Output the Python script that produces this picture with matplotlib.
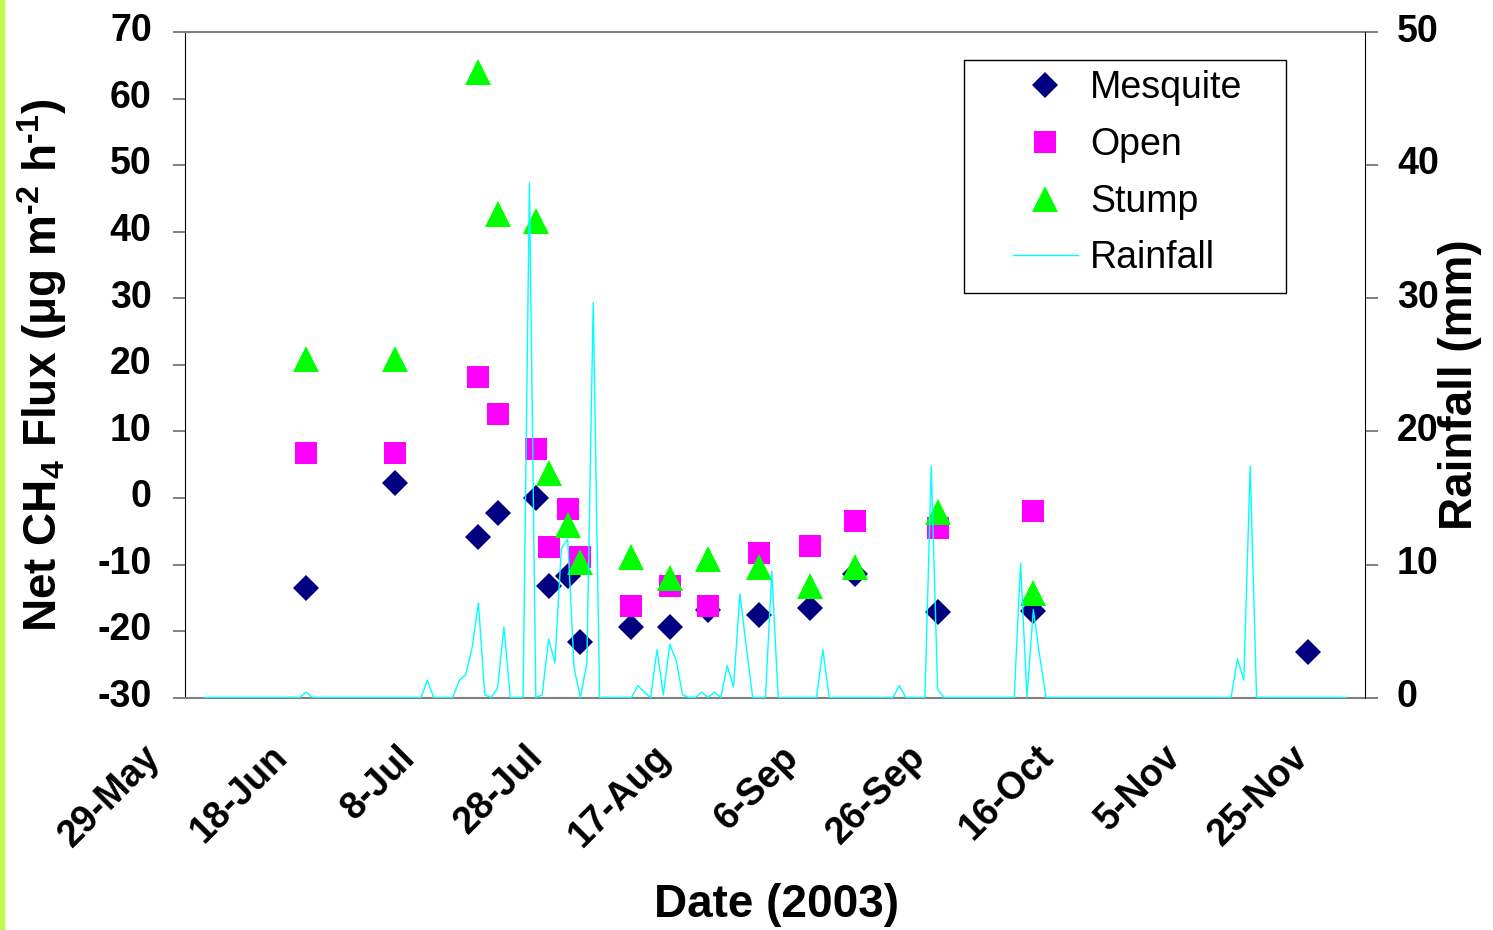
import numpy as np
import pandas as pd
import matplotlib
matplotlib.use('Agg')
import matplotlib.pyplot as plt
from matplotlib.lines import Line2D
from matplotlib.patches import Rectangle
from matplotlib.transforms import ScaledTranslation

plt.rcParams['font.family'] = ['Liberation Sans', 'DejaVu Sans']
plt.rcParams['axes.unicode_minus'] = False
plt.rcParams['mathtext.fontset'] = 'custom'
plt.rcParams['mathtext.rm'] = 'Liberation Sans:bold'
plt.rcParams['mathtext.it'] = 'Liberation Sans:bold'
plt.rcParams['mathtext.bf'] = 'Liberation Sans:bold'
plt.rcParams['mathtext.default'] = 'rm'

# fechas de muestreo del flujo de CH4 (2003)
fechas = ['2003-06-17', '2003-07-01', '2003-07-14', '2003-07-17', '2003-07-23',
          '2003-07-25', '2003-07-28', '2003-07-30', '2003-08-07', '2003-08-13',
          '2003-08-19', '2003-08-27', '2003-09-04', '2003-09-11', '2003-09-24',
          '2003-10-09', '2003-11-21']
mesquite = [-13.5, 2.3, -5.9, -2.2, 0.0, -13.2, -11.7, -21.6, -19.4, -19.4,
            -16.9, -17.6, -16.5, -11.4, -17.2, -17.0, -23.2]
# Open y Stump no tienen dato el 21-Nov
open_ = [6.8, 6.8, 18.2, 12.7, 7.3, -7.4, -1.6, -8.9, -16.3, -13.3,
         -16.3, -8.3, -7.2, -3.5, -4.5, -1.9]
stump = [20.9, 20.9, 64.1, 42.7, 41.6, 3.7, -4.0, -9.6, -8.9, -12.1,
         -9.2, -10.4, -13.3, -10.4, -2.1, -14.3]

# lluvia diaria (mm): registro del 1-Jun al 27-Nov, cero salvo estos dias
lluvia_inicio, lluvia_fin = '2003-06-01', '2003-11-27'
lluvia_fechas = ['2003-06-17', '2003-07-06', '2003-07-11', '2003-07-12', '2003-07-13',
                 '2003-07-14', '2003-07-15', '2003-07-17', '2003-07-18', '2003-07-22',
                 '2003-07-24', '2003-07-25', '2003-07-26', '2003-07-27', '2003-07-28',
                 '2003-07-29', '2003-07-31', '2003-08-01', '2003-08-08', '2003-08-09',
                 '2003-08-11', '2003-08-12', '2003-08-13', '2003-08-14', '2003-08-15',
                 '2003-08-18', '2003-08-20', '2003-08-22', '2003-08-23', '2003-08-24',
                 '2003-08-25', '2003-08-29', '2003-09-06', '2003-09-18', '2003-09-23',
                 '2003-09-24', '2003-10-07', '2003-10-09', '2003-10-10', '2003-11-10',
                 '2003-11-11', '2003-11-12']
lluvia_mm = [0.4, 1.3, 1.3, 1.7, 3.7,
             7.1, 0.2, 0.7, 5.3, 38.7,
             0.2, 4.4, 2.6, 11.2, 11.9,
             2.2, 2.6, 29.7, 0.9, 0.4,
             3.6, 0.2, 4.0, 2.8, 0.2,
             0.4, 0.4, 2.4, 0.8, 7.8,
             3.8, 9.5, 3.6, 0.9, 17.4,
             0.6, 10.1, 6.6, 3.1, 2.9,
             1.3, 17.4]

etiquetas_x = ['29-May', '18-Jun', '8-Jul', '28-Jul', '17-Aug', '6-Sep',
               '26-Sep', '16-Oct', '5-Nov', '25-Nov']
ticks_izq = [-30, -20, -10, 0, 10, 20, 30, 40, 50, 60, 70]
ticks_der = [0, 10, 20, 30, 40, 50]

fechas = pd.to_datetime(fechas)
dias = pd.date_range(lluvia_inicio, lluvia_fin, freq='D')
lluvia = pd.Series(0.0, index=dias)
lluvia[pd.to_datetime(lluvia_fechas)] = lluvia_mm
pos_x = pd.to_datetime([e + '-2003' for e in etiquetas_x], format='%d-%b-%Y')

W, H = 1493, 930
fig = plt.figure(figsize=(W / 100, H / 100), dpi=100)
fig.patches.append(Rectangle((0, 0), 4 / W, 1, transform=fig.transFigure,
                             color='#C2F74E', zorder=0))
ax = fig.add_axes([185 / W, 1 - 697.5 / H, 1180 / W, 665 / H])
ax2 = ax.twinx()

ax.plot(fechas, mesquite, ls='none', marker='D', ms=12.8, mew=0, color='#000080')
ax.plot(fechas[:16], open_, ls='none', marker='s', ms=16.3, mew=0, color='#FF00FF')
ax.plot(fechas[:16], stump, ls='none', marker='^', ms=18.2, mew=0, color='#00FF00')
ax2.plot(lluvia.index, lluvia.values, color='#00FFFF', lw=1.0)

ax.set_xlim(pd.Timestamp('2003-05-29'), pd.Timestamp('2003-11-30'))
ax.set_ylim(-30, 70)
ax2.set_ylim(0, 50)

gris = '#808080'
ax.tick_params(axis='y', direction='out', length=9, width=1.4, color=gris, pad=15)
ax2.tick_params(axis='y', direction='out', length=9, width=1.4, color=gris, pad=14)
ax.tick_params(axis='x', length=0, pad=39)

ax.set_yticks(ticks_izq)
ax.set_yticklabels([str(v) for v in ticks_izq], fontsize=27, fontweight='bold')
ax2.set_yticks(ticks_der)
ax2.set_yticklabels([str(v) for v in ticks_der], fontsize=27, fontweight='bold')
ax.set_xticks(pos_x)
ax.set_xticklabels(etiquetas_x, fontsize=27, fontweight='bold', rotation=45,
                   ha='right', va='center', rotation_mode='anchor')

# ajustes finos de posicion de las etiquetas (como en Excel)
desplaza_x = ScaledTranslation(-30 / 100, 0, fig.dpi_scale_trans)
for lbl in ax.get_xticklabels():
    lbl.set_transform(lbl.get_transform() + desplaza_x)
desplaza_y = ScaledTranslation(0, 5 / 100, fig.dpi_scale_trans)
for lbl in ax.get_yticklabels() + ax2.get_yticklabels():
    lbl.set_transform(lbl.get_transform() + desplaza_y)

for lado in ['top', 'bottom']:
    ax.spines[lado].set_color(gris)
    ax.spines[lado].set_linewidth(1.5)
    ax2.spines[lado].set_visible(False)
ax.spines['left'].set_color('black')
ax.spines['right'].set_visible(False)
ax2.spines['left'].set_visible(False)
ax2.spines['right'].set_color('black')

fig.text(42 / W, 1 - 365 / H, r'Net CH$_4$ Flux ($\mu$g m$^{\text{-}2}$ h$^{\text{-}1}$)',
         rotation=90, ha='center', va='center', fontsize=33, fontweight='bold')
fig.text(1460 / W, 1 - 385 / H, 'Rainfall (mm)', rotation=90, ha='center', va='center',
         fontsize=33, fontweight='bold')
fig.text(776 / W, 1 - 905 / H, 'Date (2003)', ha='center', va='center',
         fontsize=33, fontweight='bold')

# leyenda con marco propio
ax2.add_patch(Rectangle((0.6602, 0.6078), 0.2729, 0.3508, transform=ax2.transAxes,
                        facecolor='white', edgecolor='black', lw=1, zorder=4,
                        clip_on=False))
manejadores = [
    Line2D([], [], ls='none', marker='D', ms=12.8, mew=0, color='#000080'),
    Line2D([], [], ls='none', marker='s', ms=16.3, mew=0, color='#FF00FF'),
    Line2D([], [], ls='none', marker='^', ms=18.2, mew=0, color='#00FF00'),
    Line2D([], [], color='#00FFFF', lw=1.0),
]
leg = ax2.legend(manejadores, ['Mesquite', 'Open', 'Stump', 'Rainfall'],
                 loc='upper left', bbox_to_anchor=(0.7017, 0.943), frameon=False,
                 fontsize=27, handlelength=1.73, handletextpad=0.32,
                 labelspacing=0.55, borderpad=0, borderaxespad=0)
leg.set_zorder(5)

fig.savefig('out.png', dpi=100, facecolor='white')
